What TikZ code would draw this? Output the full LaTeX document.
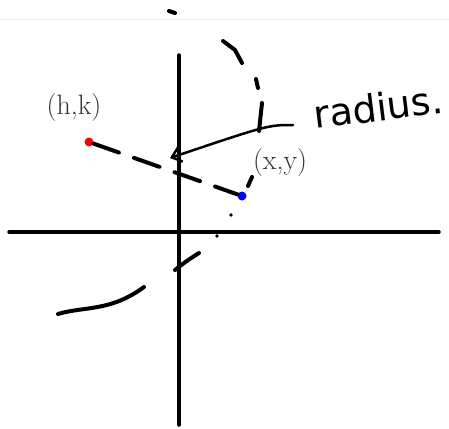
\documentclass[tikz,border=0pt]{standalone}
\usepackage{fontspec}
\newfontfamily\handfont{DejaVu Sans}
\usetikzlibrary{arrows.meta}

\begin{document}
\begin{tikzpicture}[x=1pt, y=-1pt, >={Straight Barb[length=9pt,width=15pt]},
    axis/.style={line width=3.5pt, line cap=round},
    stroke/.style={line width=4pt, line cap=round, line join=round},
    pt/.style={circle, inner sep=0pt, minimum size=9pt},
    lbl/.style={text=black!80, font=\fontsize{28}{28}\selectfont}]
      \useasboundingbox (0,0) rectangle (449,428);
      \draw[black!6, line width=1pt] (0,20) -- (449,20);

      \coordinate (T) at (179,55);
      \coordinate (B) at (179,425);
      \coordinate (L) at (9,232);
      \coordinate (R) at (439,232);
      \draw[axis] (T) -- (B);
      \draw[axis] (L) -- (R);

      \node[pt, fill=red] (hk) at (89,142) {};
      \node[pt, fill=blue] (xy) at (242,196) {};
      \node[lbl] (hklabel) at (74,108) {(h,k)};
      \node[lbl] (xylabel) at (280,163) {(x,y)};

      \draw[stroke, dash pattern=on 27pt off 16pt] (hk) -- (xy);

      \draw[stroke] (169,11) -- (175,13);
      \draw[stroke] (223,41) -- (235,50) -- (242,63);
      \draw[stroke] (256,79) -- (258,88);
      \draw[stroke] (262,103) -- (259,131);
      \draw[stroke] (252,177) -- (248,186);
      \fill (231,215) circle (1.8pt);
      \fill (217,236) circle (1.8pt);
      \draw[stroke] (175,270) .. controls (185,262) .. (199,253);
      \draw[stroke] (58,314) .. controls (85,306) and (110,312) .. (144,287);

      \coordinate (tail) at (293,125);
      \coordinate (tip) at (170,158);
      \draw[->, line width=2.5pt, line cap=round] (tail) .. controls (268,125) .. (tip);

      \node[font=\handfont\fontsize{38}{38}\selectfont, anchor=base, rotate=7] (radius) at (380,121) {radius.};
    \end{tikzpicture}
\end{document}
